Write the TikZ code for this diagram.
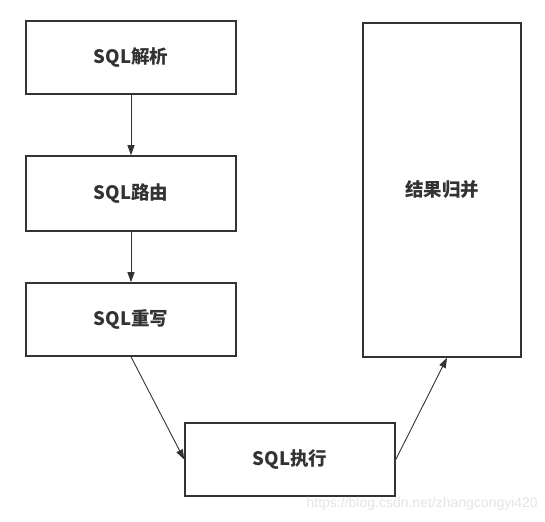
\documentclass[tikz,border=0pt]{standalone}
\usepackage{fontspec}
\newfontfamily\cjk{Noto Sans CJK SC}
\newfontfamily\wmfont{Liberation Sans}
\usetikzlibrary{arrows.meta}
\definecolor{ink}{HTML}{333333}
\definecolor{wm}{HTML}{E4E4E4}
\tikzset{
  stepbox/.style={draw=ink, line width=1.6pt, rectangle, inner sep=0pt,
    font=\cjk\bfseries\fontsize{18.5}{22}\selectfont, text=ink},
  flow/.style={draw=ink, line width=0.9pt, -{Triangle[length=10pt,width=7pt]}},
}
\begin{document}
\begin{tikzpicture}[x=1pt,y=-1pt]
\useasboundingbox (0,0) rectangle (545,521);
\node[stepbox, minimum width=210pt, minimum height=73pt] (parse) at (131,57.5) {SQL解析};
\node[stepbox, minimum width=210pt, minimum height=75pt] (route) at (131,193.5) {SQL路由};
\node[stepbox, minimum width=210pt, minimum height=73pt] (rewrite) at (131,319.5) {SQL重写};
\node[stepbox, minimum width=210pt, minimum height=73pt] (exec) at (290,459.5) {SQL执行};
\node[stepbox, minimum width=158pt, minimum height=334pt] (merge) at (442,190) {结果归并};
\draw[flow] (parse) -- (route);
\draw[flow] (route) -- (rewrite);
\draw[flow] (rewrite.south) -- (exec.west);
\draw[flow] (exec.east) -- ([xshift=5pt]merge.south);
\node[anchor=base east, inner sep=0pt, text=wm, font=\wmfont\fontsize{14}{16}\selectfont] (mark) at (538,507) {https://blog.csdn.net/zhangcongyi420};
\end{tikzpicture}
\end{document}
